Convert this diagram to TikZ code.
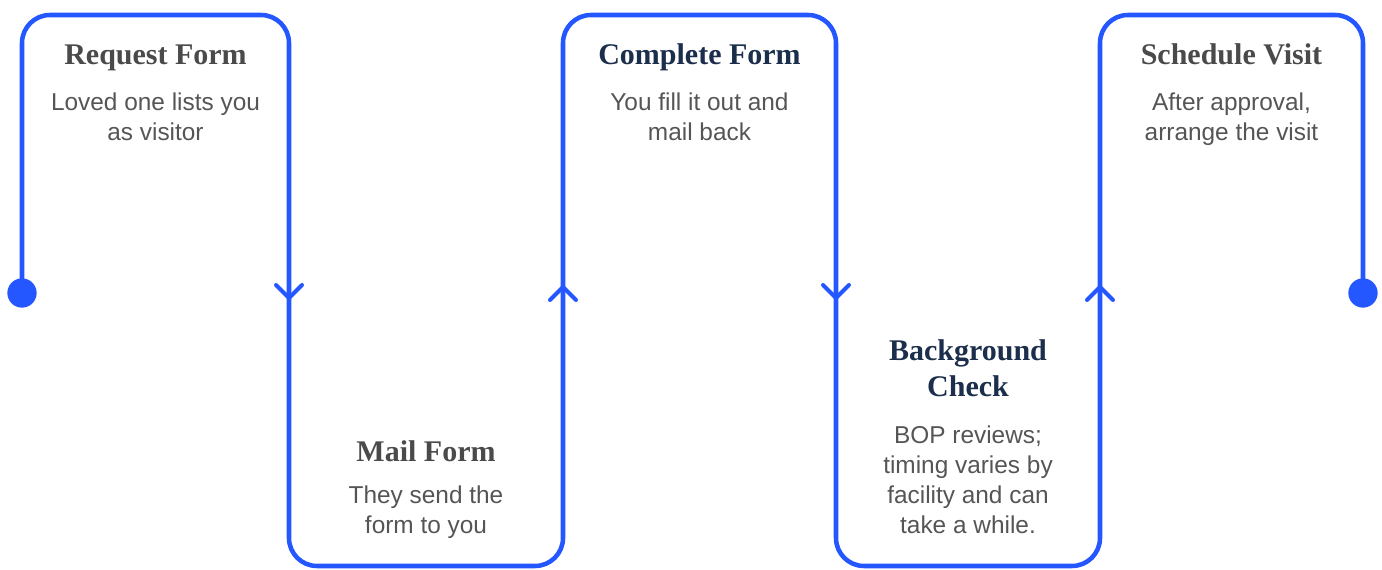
\documentclass[tikz,border=0pt]{standalone}
\usepackage{fontspec}
\setmainfont{Liberation Sans}
\newfontfamily\titlefont{Liberation Serif}
\definecolor{flowblue}{RGB}{36,87,255}
\definecolor{titlegray}{RGB}{74,74,74}
\definecolor{titlenavy}{RGB}{27,46,75}
\definecolor{bodygray}{RGB}{85,85,85}
\tikzset{
 flow/.style={draw=flowblue,line width=3.4pt,rounded corners=21pt},
 chevron/.style={draw=flowblue,line width=3pt,line cap=round,line join=round},
 steptitle/.style={anchor=base,align=center,font=\titlefont\bfseries\fontsize{22.5}{27.75}\selectfont},
 stepbody/.style={anchor=base,align=center,text=bodygray,font=\fontsize{18.3}{22.5}\selectfont}
}
\begin{document}
\begin{tikzpicture}[x=0.75pt,y=-0.75pt]
 \useasboundingbox (0,0) rectangle (1382,570);
 \coordinate (start) at (22,293);
 \coordinate (finish) at (1363,293);
 \draw[flow] (start) -- (22,15) -- (289,15) -- (289,566) -- (563,566) -- (563,15)
  -- (836,15) -- (836,566) -- (1100,566) -- (1100,15) -- (1363,15) -- (finish);
 \fill[flowblue] (start) circle (11pt);
 \fill[flowblue] (finish) circle (11pt);
 \draw[chevron] (276,285) -- (289,298) -- (302,285);
 \draw[chevron] (550,300) -- (563,287) -- (576,300);
 \draw[chevron] (823,285) -- (836,298) -- (849,285);
 \draw[chevron] (1087,300) -- (1100,287) -- (1113,300);
 \node[steptitle,text=titlegray] (request) at (155.5,65) {Request Form};
 \node[stepbody] (requestnote) at (155.5,141) {Loved one lists you\\as visitor};
 \node[steptitle,text=titlegray] (mail) at (426,461) {Mail Form};
 \node[stepbody] (mailnote) at (426,533) {They send the\\form to you};
 \node[steptitle,text=titlenavy] (complete) at (699.5,65) {Complete Form};
 \node[stepbody] (completenote) at (699.5,141) {You fill it out and\\mail back};
 \node[steptitle,text=titlenavy] (check) at (968,397) {Background\\Check};
 \node[stepbody] (checknote) at (968,533) {BOP reviews;\\timing varies by\\facility and can\\take a while.};
 \node[steptitle,text=titlegray] (visit) at (1231.5,65) {Schedule Visit};
 \node[stepbody] (visitnote) at (1231.5,141) {After approval,\\arrange the visit};
\end{tikzpicture}
\end{document}
